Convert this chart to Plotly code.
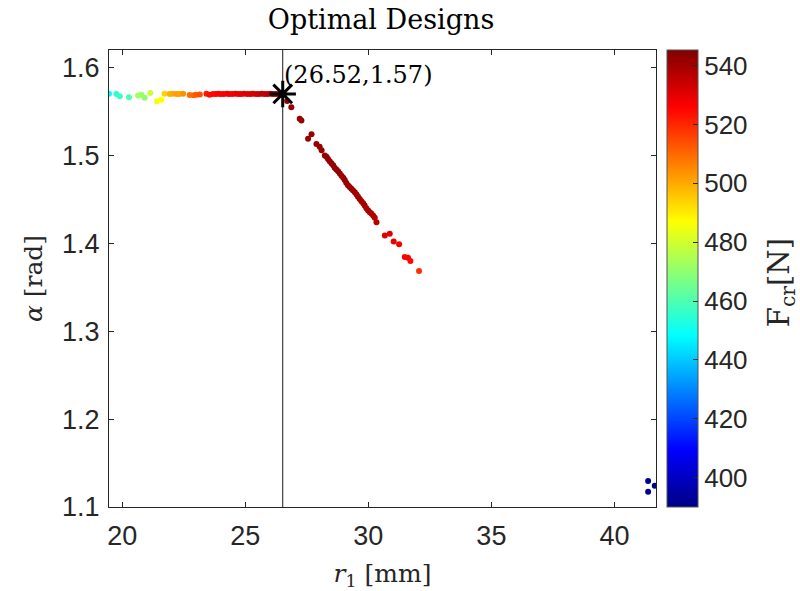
import plotly.graph_objects as go

# Pareto-optimal designs: radius r1 [mm], angle alpha [rad], critical force F_cr [N]
r1_flat = [19.46, 19.76, 19.90, 20.27, 20.64, 20.78, 20.91, 21.14, 21.41, 21.59,
           21.72, 21.93, 22.05, 22.20, 22.32, 22.47, 22.74, 22.90, 23.00, 23.15,
           23.42, 23.55, 23.69, 23.80, 23.90, 24.00, 24.12, 24.25, 24.35, 24.47,
           24.60, 24.72, 24.83, 24.95, 25.08, 25.20, 25.31, 25.44, 25.55, 25.67,
           25.78, 25.90, 26.02, 26.13, 26.25, 26.38, 26.48]
alpha_flat = [1.5702, 1.5700, 1.5674, 1.5663, 1.5682, 1.5692, 1.5656, 1.5710, 1.5617, 1.5633,
              1.5702, 1.5698, 1.5701, 1.5700, 1.5699, 1.5702, 1.5688, 1.5684, 1.5692, 1.5695,
              1.5702, 1.5692, 1.5700, 1.5698, 1.5701, 1.5699, 1.5700, 1.5702, 1.5699, 1.5700,
              1.5701, 1.5699, 1.5700, 1.5702, 1.5700, 1.5699, 1.5701, 1.5700, 1.5700, 1.5701,
              1.5699, 1.5700, 1.5701, 1.5700, 1.5699, 1.5700, 1.5701]
F_flat = [448, 455, 457, 460, 474, 472, 470, 479, 486, 487,
          494, 499, 500, 502, 501, 504, 509, 511, 512, 514,
          522, 524, 525, 525, 526, 526, 527, 527, 528, 528,
          529, 529, 530, 530, 531, 531, 532, 533, 534, 535,
          536, 537, 538, 539, 540, 541, 542]

r1_slope = [26.70, 26.87, 27.21, 27.28, 27.55, 27.69, 27.89, 28.02, 28.10, 28.23,
            28.30, 28.36, 28.43, 28.50, 28.57, 28.63, 28.70, 28.77, 28.84, 28.91,
            28.98, 29.04, 29.10, 29.17, 29.24, 29.31, 29.38, 29.45, 29.52, 29.58,
            29.65, 29.72, 29.79, 29.85, 29.92, 29.99, 30.06, 30.13, 30.20, 30.26,
            30.33, 30.67, 30.87, 31.03, 31.25, 31.48, 31.61, 31.71, 32.06]
alpha_slope = [1.5620, 1.5550, 1.5417, 1.5398, 1.5190, 1.5240, 1.5130, 1.5100, 1.5060, 1.5000,
               1.4985, 1.4960, 1.4935, 1.4910, 1.4890, 1.4860, 1.4840, 1.4820, 1.4795, 1.4770,
               1.4745, 1.4720, 1.4690, 1.4660, 1.4640, 1.4620, 1.4600, 1.4580, 1.4555, 1.4530,
               1.4505, 1.4480, 1.4455, 1.4430, 1.4400, 1.4375, 1.4355, 1.4337, 1.4315, 1.4290,
               1.4240, 1.4090, 1.4110, 1.4020, 1.3990, 1.3844, 1.3837, 1.3800, 1.3685]
F_slope = [542, 542, 542, 542, 542, 542, 542, 542, 542, 542,
           542, 542, 542, 542, 542, 542, 542, 542, 542, 541,
           541, 541, 541, 541, 541, 541, 541, 540, 540, 540,
           540, 540, 540, 540, 539, 539, 539, 539, 538, 538,
           537, 531, 530, 529, 528, 526, 526, 525, 519]

r1_far = [41.37, 41.64, 41.37]
alpha_far = [1.1295, 1.1242, 1.1174]
F_far = [392, 391, 392]

r1_all = r1_flat + r1_slope + r1_far
alpha_all = alpha_flat + alpha_slope + alpha_far
F_all = F_flat + F_slope + F_far

# Selected design
r1_sel, alpha_sel = 26.52, 1.57

x_ticks = [20, 25, 30, 35, 40]
y_ticks = [1.1, 1.2, 1.3, 1.4, 1.5, 1.6]
cbar_ticks = [400, 420, 440, 460, 480, 500, 520, 540]

jet = [[0.0, "rgb(0,0,132)"], [0.125, "rgb(0,0,255)"], [0.375, "rgb(0,255,255)"],
       [0.625, "rgb(255,255,0)"], [0.875, "rgb(255,0,0)"], [1.0, "rgb(128,0,0)"]]

axis_col = "#262626"
serif = "DejaVu Serif"
sans = "Liberation Sans"
tick_size = 27

fig = go.Figure()

# vertical reference line through the selected design
fig.add_trace(go.Scatter(
    x=[r1_sel, r1_sel], y=[1.1, 1.62], mode="lines",
    line=dict(color="#1a1a1a", width=1), hoverinfo="skip", showlegend=False))

fig.add_trace(go.Scatter(
    x=r1_all, y=alpha_all, mode="markers",
    marker=dict(size=6, color=F_all, colorscale=jet, cmin=390, cmax=545.3,
                line=dict(width=0),
                colorbar=dict(
                    x=1.0205, xanchor="left", xref="paper", xpad=0, ypad=0,
                    y=0.5, yanchor="middle", len=1.0, lenmode="fraction",
                    thickness=31, outlinewidth=1, outlinecolor="#555555",
                    tickvals=cbar_ticks, ticks="inside", ticklen=5,
                    tickcolor=axis_col,
                    tickfont=dict(family=sans, size=26, color=axis_col),
                )),
    showlegend=False))

fig.add_trace(go.Scatter(
    x=[r1_sel], y=[alpha_sel], mode="markers",
    marker=dict(symbol="asterisk-open", size=22, color="black",
                line=dict(color="black", width=3)),
    showlegend=False))

fig.add_annotation(
    x=r1_sel, y=alpha_sel, text=f"({r1_sel:.2f},{alpha_sel:.2f})",
    showarrow=False, xanchor="left", yanchor="bottom", xshift=-1, yshift=3,
    font=dict(family=serif, size=24, color="black"))

# colour bar label
fig.add_annotation(
    x=1.2285, y=0.492, xref="paper", yref="paper", text="F<sub>cr</sub>[N]",
    textangle=-90, showarrow=False, xanchor="center", yanchor="middle",
    font=dict(family=serif, size=29, color=axis_col))

axis_common = dict(
    showgrid=False, zeroline=False, showline=True, linecolor=axis_col, linewidth=1,
    mirror="ticks", ticks="inside", ticklen=5, tickcolor=axis_col, automargin=False,
    tickfont=dict(family=sans, size=tick_size, color=axis_col),
)

fig.update_xaxes(range=[19.46, 41.69], tickvals=x_ticks, ticklabelstandoff=5,
                 title=dict(text="<i>r</i><sub>1</sub> [mm]", standoff=15,
                            font=dict(family=serif, size=25, color=axis_col)),
                 **axis_common)
fig.update_yaxes(range=[1.1, 1.62], tickvals=y_ticks, tickformat=".1f",
                 ticklabelstandoff=3,
                 title=dict(text="<i>α</i> [rad]", standoff=12,
                            font=dict(family=serif, size=25, color=axis_col)),
                 **axis_common)

fig.update_layout(
    width=800, height=591,
    margin=dict(l=109, r=144, t=50, b=84, autoexpand=False),
    paper_bgcolor="white", plot_bgcolor="white",
    title=dict(text="Optimal Designs", x=381 / 800,
               xanchor="center", y=1 - 20 / 591, yanchor="middle",
               font=dict(family=serif, size=27, color="black")),
)

fig.write_html("out.html")
